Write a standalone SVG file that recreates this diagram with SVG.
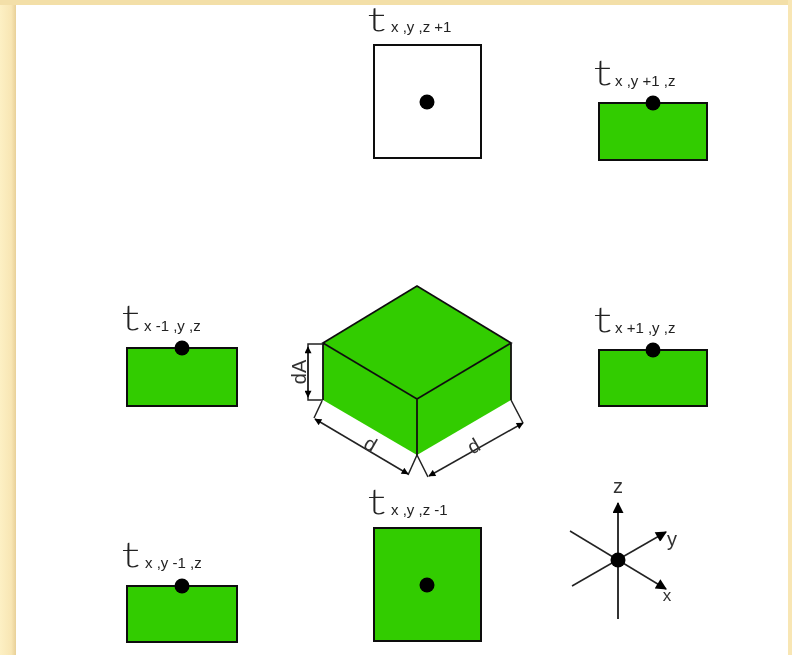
<svg xmlns="http://www.w3.org/2000/svg" width="792" height="655" viewBox="0 0 792 655">
<defs>
<linearGradient id="stripe" x1="0" x2="1" y1="0" y2="0"><stop offset="0" stop-color="#fdf0c4"/><stop offset="0.7" stop-color="#f8e6b4"/><stop offset="1" stop-color="#e8d098"/></linearGradient>
<filter id="soft" filterUnits="userSpaceOnUse" x="0" y="0" width="792" height="655"><feGaussianBlur stdDeviation="0.55"/></filter>
<marker id="ah" viewBox="0 0 10 10" refX="9" refY="5" markerWidth="14" markerHeight="11" markerUnits="userSpaceOnUse" orient="auto-start-reverse"><path d="M0 0L10 5L0 10Z" fill="#000"/></marker>
<marker id="dh" viewBox="0 0 10 10" refX="9" refY="5" markerWidth="8" markerHeight="7" markerUnits="userSpaceOnUse" orient="auto-start-reverse"><path d="M0 0L10 5L0 10Z" fill="#000"/></marker>
</defs>
<style>
.box{stroke:#111;stroke-width:2}
.g{fill:#3c0}
.w{fill:#fff}
.dot{fill:#000}
.t{font:100 34px Lato,"Liberation Sans",Arial,sans-serif;fill:#222;stroke:#222;stroke-width:0.9}
.s{font:15px "Liberation Sans",Arial,sans-serif;fill:#222}
.l{font:20px "Liberation Sans",Arial,sans-serif;fill:#333;text-anchor:middle}
.ln{fill:none;stroke:#222;stroke-width:1.5}
</style>
<rect width="792" height="655" fill="#fff"/>
<rect x="0" y="0" width="16" height="655" fill="url(#stripe)"/>
<rect x="0" y="0" width="792" height="5" fill="#f3dfa8"/>
<rect x="788" y="0" width="4" height="655" fill="#f8e6b4"/>
<g filter="url(#soft)">
<g id="node-top">
<rect class="box w" x="374" y="45" width="107" height="113"/>
<circle class="dot" cx="427" cy="102" r="7.5"/>
<text class="t" style="font-size:31px" transform="translate(368,31) scale(1.65,1)">t</text><text class="s" x="391" y="32">x ,y ,z +1</text>
</g>
<g id="node-ybig">
<rect class="box g" x="599" y="103" width="108" height="57"/>
<circle class="dot" cx="653" cy="103" r="7.5"/>
<text class="t" transform="translate(594,85) scale(1.5,1)">t</text><text class="s" x="615" y="86">x ,y +1 ,z</text>
</g>
<g id="node-xless">
<rect class="box g" x="127" y="348" width="110" height="58"/>
<circle class="dot" cx="182" cy="348" r="7.5"/>
<text class="t" transform="translate(122,330) scale(1.5,1)">t</text><text class="s" x="144" y="331">x -1 ,y ,z</text>
</g>
<g id="node-xmore">
<rect class="box g" x="599" y="350" width="108" height="56"/>
<circle class="dot" cx="653" cy="350" r="7.5"/>
<text class="t" transform="translate(594,332) scale(1.5,1)">t</text><text class="s" x="615" y="333">x +1 ,y ,z</text>
</g>
<g id="node-yless">
<rect class="box g" x="127" y="586" width="110" height="56"/>
<circle class="dot" cx="182" cy="586" r="7.5"/>
<text class="t" transform="translate(122,567) scale(1.5,1)">t</text><text class="s" x="145" y="568">x ,y -1 ,z</text>
</g>
<g id="node-bottom">
<rect class="box g" x="374" y="528" width="107" height="113"/>
<circle class="dot" cx="427" cy="585" r="7.5"/>
<text class="t" transform="translate(368,514) scale(1.5,1)">t</text><text class="s" x="391" y="515">x ,y ,z -1</text>
</g>
<g id="node-cube">
<path class="g" d="M417 286L511 343V400L417 455L323 400V343Z"/>
<path fill="none" stroke="#111" stroke-width="1.8" d="M323 343L417 286L511 343L417 399ZM417 399V455M323 343V400M511 343V400"/>
</g>
<g id="connectors">
<path class="ln" d="M323 344H308V400H323"/>
<path class="ln" d="M308 347V397" marker-start="url(#dh)" marker-end="url(#dh)"/>
<path class="ln" d="M322 401L314 418M417 455L408 475M417 455L428 477M511 400L523 423"/>
<path class="ln" d="M315 419L408 474" marker-start="url(#dh)" marker-end="url(#dh)"/>
<path class="ln" d="M429 476L523 423" marker-start="url(#dh)" marker-end="url(#dh)"/>
<path fill="none" stroke="#333" stroke-width="2" d="M618 619V503" marker-end="url(#ah)"/>
<path class="ln" d="M572 586L666 532" marker-end="url(#ah)"/>
<path class="ln" d="M570 531L666 589" marker-end="url(#ah)"/>
<circle class="dot" cx="618" cy="560" r="7.5"/>
</g>
<g id="labels">
<text class="l" transform="translate(306,372) rotate(-90)">dA</text>
<text class="l" transform="translate(367,450) rotate(30)">d</text>
<text class="l" transform="translate(477,452) rotate(-30)">d</text>
<text class="l" x="618" y="493">z</text>
<text class="l" x="672" y="546">y</text>
<text class="l" style="font-size:17px" x="667" y="601">x</text>
</g>
</g>
</svg>
